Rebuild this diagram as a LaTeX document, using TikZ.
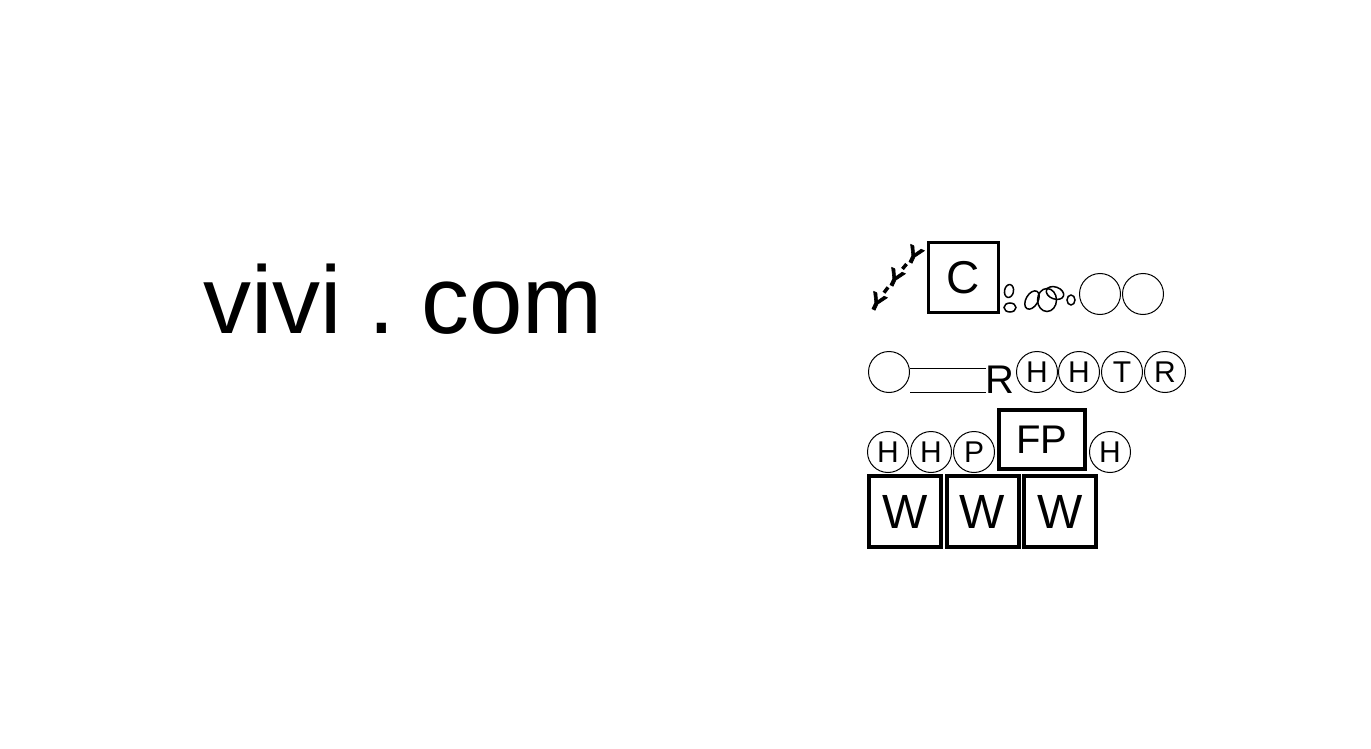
\documentclass[tikz,border=0pt]{standalone}
\usepackage{fontspec}
\setmainfont{Liberation Sans}
\newfontfamily\heavyfont[FakeBold=2.5]{Liberation Sans Bold}
\tikzset{
  ring/.style={circle, draw, line width=1pt, inner sep=0pt, minimum size=41pt, font=\fontsize{30}{30}\selectfont},
  bigbox/.style={draw, line width=4pt, inner sep=0pt, minimum width=72pt, minimum height=71pt, font=\fontsize{48}{48}\selectfont},
  blob/.style={ellipse, draw, line width=1.5pt, inner sep=0pt}
}
\usetikzlibrary{shapes.geometric}

\begin{document}
\begin{tikzpicture}[x=1pt,y=-1pt]
\useasboundingbox (0,0) rectangle (1371,749);
\node[anchor=base] (site) at (403,333) {\fontsize{96}{96}\selectfont vivi .\hspace{-9pt} com};

% top row
\node[bigbox, line width=3pt, minimum width=70pt, minimum height=70pt, font=\fontsize{46}{46}\selectfont] (c) at (963.5,277.5) {\raisebox{-2pt}{C}};
\begin{scope}[every node/.style={rotate=-25, inner sep=0pt, font=\heavyfont\fontsize{24}{24}\selectfont}]
\node (y1) at (877,302) {Y};
\node (y2) at (895,278) {Y};
\node (y3) at (914,255) {Y};
\end{scope}
\draw[line width=3.5pt, shorten <=3pt, shorten >=3pt] (y1)--(y2);
\draw[line width=3.5pt, shorten <=3pt, shorten >=3pt] (y2)--(y3);

\node[blob, minimum width=9pt, minimum height=13pt, rotate=-10] (e1) at (1009,291) {};
\node[blob, minimum width=12pt, minimum height=9pt] (e2) at (1010,307.5) {};
\node[blob, minimum width=20pt, minimum height=12pt, rotate=60] (e3) at (1032,300) {};
\node[blob, minimum width=19pt, minimum height=23pt] (e4) at (1047,300) {};
\node[blob, minimum width=18pt, minimum height=12pt, rotate=-20] (e5) at (1055,293) {};
\node[blob, minimum width=8pt, minimum height=10pt] (e6) at (1071,300) {};
\node[ring] (o1) at (1100,294) {};
\node[ring] (o2) at (1143,294) {};

% second row
\node[ring] (o3) at (889,372) {};
\node[anchor=base, inner sep=0pt, font=\fontsize{40}{40}\selectfont] (r) at (1000,393) {R};
\coordinate (t1) at (986,368.5);
\coordinate (t2) at (986,392);
\draw[line width=1pt] (o3.east |- t1) -- (t1);
\draw[line width=1pt] (o3.east |- t2) -- (t2);
\node[ring] (h1) at (1037,372) {H};
\node[ring] (h2) at (1079,372) {H};
\node[ring] (t) at (1122,372) {T};
\node[ring] (r2) at (1165,372) {R};

% third row
\node[ring] (h3) at (888,452) {H};
\node[ring] (h4) at (931,452) {H};
\node[ring] (p) at (974,452) {P};
\node[bigbox, line width=3.5pt, minimum width=86pt, minimum height=59pt, font=\fontsize{40}{40}\selectfont] (fp) at (1042,439.5) {FP};
\node[ring] (h5) at (1110,452) {H};

% bottom row
\node[bigbox] (w1) at (905,511.5) {W};
\node[bigbox] (w2) at (982.5,511.5) {W};
\node[bigbox] (w3) at (1060,511.5) {W};
\end{tikzpicture}
\end{document}
